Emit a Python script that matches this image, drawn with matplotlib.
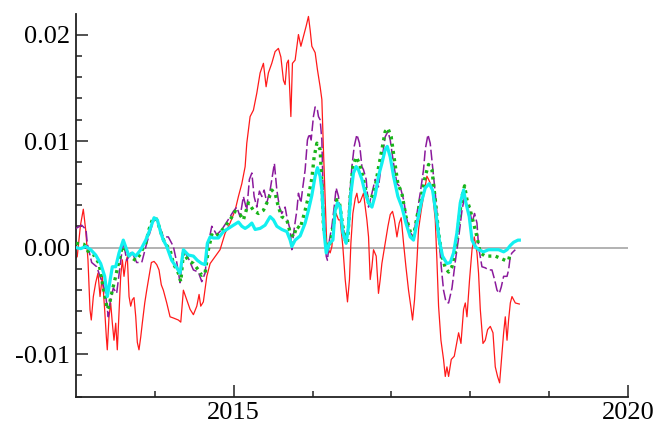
import matplotlib
matplotlib.use("Agg")
import matplotlib.pyplot as plt
from matplotlib.ticker import FixedLocator, MultipleLocator, FuncFormatter

plt.rcParams["font.family"] = ["Liberation Serif", "DejaVu Serif"]
plt.rcParams["axes.unicode_minus"] = False

# ---- series: decimal year / value ----
red_t = [2013.000, 2013.016, 2013.057, 2013.093, 2013.123, 2013.152, 2013.178, 2013.194, 2013.220, 2013.250,
         2013.279, 2013.305, 2013.334, 2013.364, 2013.385, 2013.397, 2013.419, 2013.440, 2013.461, 2013.482,
         2013.504, 2013.524, 2013.546, 2013.567, 2013.588, 2013.609, 2013.631, 2013.651, 2013.673, 2013.694,
         2013.714, 2013.736, 2013.758, 2013.778, 2013.799, 2013.821, 2013.841, 2013.872, 2013.897, 2013.926,
         2013.956, 2013.990, 2014.024, 2014.053, 2014.082, 2014.108, 2014.151, 2014.193, 2014.231, 2014.298,
         2014.329, 2014.362, 2014.405, 2014.447, 2014.489, 2014.532, 2014.561, 2014.582, 2014.615, 2014.659,
         2014.701, 2014.764, 2014.827, 2014.891, 2014.954, 2015.018, 2015.060, 2015.103, 2015.145, 2015.166,
         2015.208, 2015.250, 2015.293, 2015.335, 2015.377, 2015.411, 2015.440, 2015.483, 2015.525, 2015.567,
         2015.598, 2015.631, 2015.652, 2015.674, 2015.694, 2015.725, 2015.745, 2015.779, 2015.821, 2015.852,
         2015.884, 2015.919, 2015.948, 2015.970, 2015.991, 2016.033, 2016.062, 2016.096, 2016.118, 2016.138,
         2016.160, 2016.181, 2016.223, 2016.245, 2016.265, 2016.299, 2016.329, 2016.350, 2016.384, 2016.414,
         2016.443, 2016.468, 2016.486, 2016.511, 2016.541, 2016.562, 2016.582, 2016.604, 2016.646, 2016.668,
         2016.689, 2016.710, 2016.731, 2016.753, 2016.773, 2016.807, 2016.836, 2016.858, 2016.879, 2016.921,
         2016.956, 2016.985, 2017.014, 2017.039, 2017.070, 2017.099, 2017.124, 2017.154, 2017.184, 2017.217,
         2017.251, 2017.268, 2017.293, 2017.324, 2017.344, 2017.378, 2017.407, 2017.450, 2017.471, 2017.514,
         2017.556, 2017.577, 2017.598, 2017.628, 2017.661, 2017.683, 2017.704, 2017.725, 2017.759, 2017.797,
         2017.852, 2017.882, 2017.915, 2017.937, 2017.958, 2017.991, 2018.022, 2018.051, 2018.085, 2018.105,
         2018.127, 2018.161, 2018.190, 2018.220, 2018.254, 2018.288, 2018.317, 2018.346, 2018.372, 2018.402,
         2018.423, 2018.444, 2018.466, 2018.486, 2018.508, 2018.529, 2018.571, 2018.622]
red_v = [-0.00097, -0.00085, 0.0021, 0.0036, 0.00166, -0.00115, -0.00585, -0.0068, -0.0046, -0.0033,
         -0.0024, -0.0046, -0.0027, -0.00585, -0.0084, -0.0096, -0.0065, -0.0052, -0.0071, -0.0087,
         -0.0071, -0.0096, -0.0061, -0.0027, -0.00115, -0.0027, -0.0014, -0.00085, -0.0046, -0.0055,
         -0.0049, -0.0047, -0.0065, -0.0089, -0.0096, -0.0084, -0.0071, -0.0052, -0.0040, -0.0027,
         -0.0014, -0.0013, -0.0016, -0.0021, -0.0035, -0.0040, -0.0052, -0.0065, -0.0066, -0.0068,
         -0.0070, -0.0040, -0.0049, -0.0058, -0.0063, -0.0055, -0.0044, -0.0055, -0.0051, -0.0027,
         -0.0015, -0.00085, -0.0002, 0.00135, 0.0023, 0.0035, 0.0048, 0.0060, 0.0076, 0.0098,
         0.0123, 0.0129, 0.0145, 0.0164, 0.0173, 0.0151, 0.0164, 0.0173, 0.0184, 0.0187,
         0.0179, 0.0157, 0.0153, 0.0173, 0.0176, 0.0123, 0.0173, 0.0176, 0.0200, 0.0189,
         0.0198, 0.0208, 0.0217, 0.0204, 0.0189, 0.0183, 0.0167, 0.0151, 0.0139, 0.0092,
         0.0045, 0.0001, -0.0005, 0.0001, 0.0020, 0.0032, 0.0026, 0.0026, 0.0001, -0.0030,
         -0.0051, -0.0030, 0.0004, 0.0032, 0.0046, 0.0051, 0.0042, 0.0043, 0.0051, 0.0038,
         0.0026, 0.0010, -0.0030, -0.0018, -0.0002, -0.0008, -0.0043, -0.0030, -0.0015, 0.0004,
         0.0020, 0.0031, 0.0034, 0.0026, 0.0010, 0.0023, 0.0028, 0.0004, -0.0018, -0.0040,
         -0.0058, -0.0068, -0.0049, -0.0012, 0.0017, 0.0035, 0.0048, 0.0067, 0.0064, 0.0057,
         0.0026, -0.0012, -0.0055, -0.0087, -0.0105, -0.0121, -0.0112, -0.0121, -0.0105, -0.0102,
         -0.0080, -0.0090, -0.0058, -0.0052, -0.0065, -0.0030, -0.0002, 0.0010, -0.0005, -0.0024,
         -0.0058, -0.0090, -0.0087, -0.0077, -0.0074, -0.0080, -0.0112, -0.0121, -0.0127, -0.0099,
         -0.0080, -0.0065, -0.0087, -0.0068, -0.0052, -0.0046, -0.0052, -0.0053]

purple_t = [2013.000, 2013.072, 2013.127, 2013.143, 2013.199, 2013.263, 2013.305, 2013.368, 2013.410, 2013.431,
            2013.473, 2013.516, 2013.558, 2013.600, 2013.643, 2013.707, 2013.770, 2013.834, 2013.897, 2013.961,
            2014.003, 2014.044, 2014.108, 2014.171, 2014.235, 2014.278, 2014.320, 2014.362, 2014.425, 2014.489,
            2014.552, 2014.595, 2014.637, 2014.679, 2014.722, 2014.786, 2014.849, 2014.912, 2014.996, 2015.039,
            2015.081, 2015.123, 2015.166, 2015.199, 2015.230, 2015.259, 2015.293, 2015.326, 2015.357, 2015.386,
            2015.420, 2015.462, 2015.496, 2015.516, 2015.547, 2015.580, 2015.610, 2015.652, 2015.681, 2015.716,
            2015.737, 2015.766, 2015.801, 2015.821, 2015.852, 2015.877, 2015.906, 2015.935, 2015.961, 2015.982,
            2016.011, 2016.033, 2016.062, 2016.075, 2016.096, 2016.118, 2016.131, 2016.147, 2016.173, 2016.189,
            2016.214, 2016.245, 2016.274, 2016.299, 2016.329, 2016.350, 2016.384, 2016.414, 2016.443, 2016.468,
            2016.499, 2016.528, 2016.562, 2016.595, 2016.626, 2016.646, 2016.680, 2016.710, 2016.753, 2016.794,
            2016.836, 2016.879, 2016.921, 2016.956, 2016.985, 2017.027, 2017.070, 2017.112, 2017.154, 2017.197,
            2017.239, 2017.280, 2017.324, 2017.365, 2017.407, 2017.429, 2017.463, 2017.492, 2017.522, 2017.556,
            2017.598, 2017.632, 2017.661, 2017.692, 2017.725, 2017.768, 2017.810, 2017.852, 2017.895, 2017.928,
            2017.958, 2017.987, 2018.022, 2018.054, 2018.085, 2018.105, 2018.148, 2018.190, 2018.232, 2018.275,
            2018.308, 2018.339, 2018.368, 2018.393, 2018.423, 2018.466, 2018.486, 2018.508, 2018.529, 2018.571]
purple_v = [0.0018, 0.0021, 0.0017, 0.0004, -0.0014, -0.0018, -0.0027, -0.0040, -0.0065, -0.0052,
            -0.0038, -0.0043, -0.0018, 0.0006, -0.0012, -0.0004, -0.0014, -0.0014, 0.0004, 0.0020,
            0.0028, 0.0023, 0.0010, 0.0010, 0.0001, -0.0014, -0.0033, -0.0002, -0.0010, -0.0021,
            -0.0023, -0.0032, -0.0024, 0.0004, 0.0020, 0.0012, 0.0017, 0.0024, 0.0034, 0.0038,
            0.0029, 0.0048, 0.0035, 0.0064, 0.0070, 0.0048, 0.0038, 0.0053, 0.0048, 0.0054,
            0.0042, 0.0054, 0.0070, 0.0079, 0.0054, 0.0038, 0.0032, 0.0038, 0.0026, 0.0017,
            -0.0002, 0.0017, 0.0035, 0.0051, 0.0042, 0.0057, 0.0073, 0.0101, 0.0107, 0.0101,
            0.0123, 0.0132, 0.0129, 0.0123, 0.0120, 0.0101, 0.0060, 0.0029, -0.0008, -0.0012,
            0.0007, 0.0020, 0.0038, 0.0056, 0.0048, 0.0032, 0.0020, 0.0010, 0.0014, 0.0045,
            0.0076, 0.0095, 0.0106, 0.0098, 0.0076, 0.0073, 0.0064, 0.0038, 0.0051, 0.0064,
            0.0057, 0.0082, 0.0104, 0.0109, 0.0101, 0.0079, 0.0060, 0.0057, 0.0045, 0.0026,
            0.0014, 0.0010, 0.0032, 0.0051, 0.0073, 0.0092, 0.0106, 0.0098, 0.0076, 0.0051,
            0.0014, -0.0018, -0.0040, -0.0051, -0.0052, -0.0038, -0.0013, 0.0009, 0.0035, 0.0048,
            0.0038, 0.0038, 0.0023, 0.0032, 0.0023, 0.0001, -0.0018, -0.0019, -0.0021, -0.0021,
            -0.0030, -0.0040, -0.0043, -0.0037, -0.0027, -0.0027, -0.0021, -0.0008, -0.0005, -0.0002]

green_t = [2013.000, 2013.102, 2013.165, 2013.228, 2013.292, 2013.334, 2013.377, 2013.397, 2013.419, 2013.461,
           2013.504, 2013.546, 2013.588, 2013.631, 2013.673, 2013.714, 2013.758, 2013.799, 2013.841, 2013.885,
           2013.926, 2013.968, 2014.011, 2014.053, 2014.095, 2014.129, 2014.193, 2014.235, 2014.298, 2014.329,
           2014.362, 2014.425, 2014.489, 2014.552, 2014.595, 2014.637, 2014.679, 2014.722, 2014.764, 2014.827,
           2014.891, 2014.954, 2015.018, 2015.081, 2015.123, 2015.187, 2015.250, 2015.313, 2015.377, 2015.440,
           2015.483, 2015.525, 2015.567, 2015.610, 2015.674, 2015.716, 2015.758, 2015.801, 2015.843, 2015.906,
           2015.948, 2015.991, 2016.020, 2016.055, 2016.096, 2016.118, 2016.138, 2016.173, 2016.223, 2016.265,
           2016.308, 2016.341, 2016.372, 2016.414, 2016.443, 2016.477, 2016.511, 2016.553, 2016.595, 2016.638,
           2016.680, 2016.710, 2016.753, 2016.794, 2016.836, 2016.879, 2016.921, 2016.956, 2016.997, 2017.039,
           2017.082, 2017.133, 2017.184, 2017.239, 2017.280, 2017.324, 2017.387, 2017.429, 2017.471, 2017.514,
           2017.556, 2017.598, 2017.641, 2017.683, 2017.725, 2017.768, 2017.810, 2017.852, 2017.895, 2017.928,
           2017.958, 2018.000, 2018.042, 2018.085, 2018.127, 2018.190, 2018.254, 2018.317, 2018.381, 2018.444,
           2018.486, 2018.508]
green_v = [0.0004, 0.0003, -0.0005, -0.0007, -0.0015, -0.0033, -0.0049, -0.0058, -0.0055, -0.0040,
           -0.0027, -0.0012, 0.0001, -0.0002, -0.0008, -0.0010, -0.0012, -0.0008, -0.0002, 0.0004,
           0.0017, 0.0026, 0.0028, 0.0020, 0.0010, 0.0004, -0.0002, -0.0015, -0.0024, -0.0032,
           -0.0005, -0.0012, -0.0015, -0.0021, -0.0026, -0.0024, -0.0002, 0.0012, 0.0010, 0.0014,
           0.0020, 0.0026, 0.0034, 0.0031, 0.0026, 0.0042, 0.0035, 0.0032, 0.0035, 0.0045,
           0.0054, 0.0051, 0.0038, 0.0029, 0.0026, 0.0014, 0.0010, 0.0020, 0.0018, 0.0035,
           0.0048, 0.0065, 0.0085, 0.0098, 0.0092, 0.0060, 0.0020, 0.0001, 0.0004, 0.0020,
           0.0045, 0.0042, 0.0026, 0.0007, 0.0003, 0.0048, 0.0076, 0.0085, 0.0079, 0.0067,
           0.0051, 0.0042, 0.0048, 0.0057, 0.0075, 0.0092, 0.0109, 0.0112, 0.0104, 0.0082,
           0.0060, 0.0051, 0.0029, 0.0015, 0.0010, 0.0029, 0.0051, 0.0067, 0.0078, 0.0073,
           0.0045, 0.0014, -0.0008, -0.0019, -0.0023, -0.0018, -0.0002, 0.0023, 0.0048, 0.0058,
           0.0045, 0.0035, 0.0023, 0.0010, -0.0005, -0.0008, -0.0008, -0.0008, -0.0010, -0.0012,
           -0.0012, -0.0005]

cyan_t = [2013.000, 2013.060, 2013.123, 2013.187, 2013.250, 2013.313, 2013.364, 2013.397, 2013.419, 2013.461,
          2013.504, 2013.546, 2013.600, 2013.643, 2013.673, 2013.714, 2013.758, 2013.821, 2013.885, 2013.939,
          2013.990, 2014.032, 2014.075, 2014.108, 2014.151, 2014.214, 2014.278, 2014.320, 2014.362, 2014.425,
          2014.489, 2014.539, 2014.595, 2014.637, 2014.666, 2014.701, 2014.742, 2014.806, 2014.869, 2014.933,
          2014.996, 2015.060, 2015.103, 2015.145, 2015.187, 2015.230, 2015.272, 2015.335, 2015.398, 2015.462,
          2015.504, 2015.547, 2015.610, 2015.674, 2015.716, 2015.737, 2015.779, 2015.843, 2015.906, 2015.948,
          2015.991, 2016.033, 2016.062, 2016.096, 2016.118, 2016.147, 2016.173, 2016.214, 2016.258, 2016.287,
          2016.316, 2016.350, 2016.384, 2016.426, 2016.456, 2016.486, 2016.519, 2016.553, 2016.582, 2016.626,
          2016.668, 2016.710, 2016.753, 2016.794, 2016.836, 2016.879, 2016.921, 2016.947, 2016.985, 2017.027,
          2017.082, 2017.133, 2017.184, 2017.239, 2017.280, 2017.324, 2017.378, 2017.429, 2017.480, 2017.522,
          2017.565, 2017.607, 2017.648, 2017.704, 2017.746, 2017.788, 2017.831, 2017.873, 2017.915, 2017.945,
          2017.987, 2018.022, 2018.063, 2018.105, 2018.168, 2018.232, 2018.296, 2018.359, 2018.423, 2018.466,
          2018.508, 2018.550, 2018.605, 2018.622]
cyan_v = [0.0000, -0.0001, 0.0001, -0.0002, -0.0007, -0.0015, -0.0027, -0.0046, -0.0037, -0.0018,
          -0.0018, -0.0005, 0.0007, -0.0002, -0.0008, -0.0005, -0.0008, -0.0002, 0.0007, 0.0017,
          0.0028, 0.0026, 0.0014, 0.0007, 0.0001, -0.0012, -0.0019, -0.0024, -0.0002, -0.0007,
          -0.0008, -0.0012, -0.0015, -0.0016, 0.0004, 0.0010, 0.0009, 0.0009, 0.0015, 0.0018,
          0.0021, 0.0024, 0.0020, 0.0018, 0.0020, 0.0023, 0.0017, 0.0018, 0.0021, 0.0029,
          0.0026, 0.0020, 0.0017, 0.0015, 0.0007, 0.0001, 0.0007, 0.0011, 0.0023, 0.0035,
          0.0049, 0.0067, 0.0075, 0.0067, 0.0054, 0.0014, -0.0005, 0.0004, 0.0007, 0.0035,
          0.0042, 0.0038, 0.0014, 0.0004, 0.0020, 0.0051, 0.0070, 0.0076, 0.0073, 0.0064,
          0.0051, 0.0042, 0.0038, 0.0049, 0.0067, 0.0079, 0.0092, 0.0095, 0.0085, 0.0067,
          0.0048, 0.0038, 0.0023, 0.0010, 0.0007, 0.0023, 0.0042, 0.0056, 0.0060, 0.0054,
          0.0032, 0.0007, -0.0008, -0.0015, -0.0014, -0.0005, 0.0014, 0.0042, 0.0054, 0.0042,
          0.0029, 0.0007, 0.0001, -0.0002, -0.0004, -0.0002, -0.0002, -0.0002, -0.0004, -0.0002,
          0.0002, 0.0005, 0.0007, 0.0007]

x_major = [2015, 2020]
x_minor = [2014, 2016, 2017, 2018, 2019]

fig = plt.figure(figsize=(6.7, 4.26), dpi=100)
ax = fig.add_axes([0.1134, 0.0688, 0.8239, 0.8976])

ax.axhline(0.0, color="#a6a6a6", lw=1.2, zorder=1)
ax.plot(red_t, red_v, color="#ff1a1a", lw=0.9, zorder=2)
ax.plot(purple_t, purple_v, color="#8b1a9c", lw=1.1, dashes=(7, 2.2), zorder=3)
ax.plot(green_t, green_v, color="#19b419", lw=2.4, linestyle=(0, (0.9, 1.3)), zorder=4)
ax.plot(cyan_t, cyan_v, color="#12f0f0", lw=2.3, zorder=5)

ax.set_xlim(2013, 2020)
ax.set_ylim(-0.014, 0.0219)

for side in ("top", "right"):
    ax.spines[side].set_visible(False)
for side in ("left", "bottom"):
    ax.spines[side].set_linewidth(1.3)
    ax.spines[side].set_color("#222222")

ax.xaxis.set_major_locator(FixedLocator(x_major))
ax.xaxis.set_minor_locator(FixedLocator(x_minor))
ax.xaxis.set_major_formatter(FuncFormatter(lambda v, p: f"{int(round(v))}"))
ax.yaxis.set_major_locator(MultipleLocator(0.01))
ax.yaxis.set_minor_locator(MultipleLocator(0.002))
ax.yaxis.set_major_formatter(FuncFormatter(lambda v, p: f"{v:.2f}".replace("-0.00", "0.00")))

ax.tick_params(which="both", direction="in", color="#222222", width=1.1, labelsize=19)
ax.tick_params(which="major", length=8.5)
ax.tick_params(which="minor", length=4)
ax.tick_params(axis="y", which="major", pad=4.5)
ax.tick_params(axis="x", which="major", pad=3.5)

fig.savefig("out.png", dpi=100)
